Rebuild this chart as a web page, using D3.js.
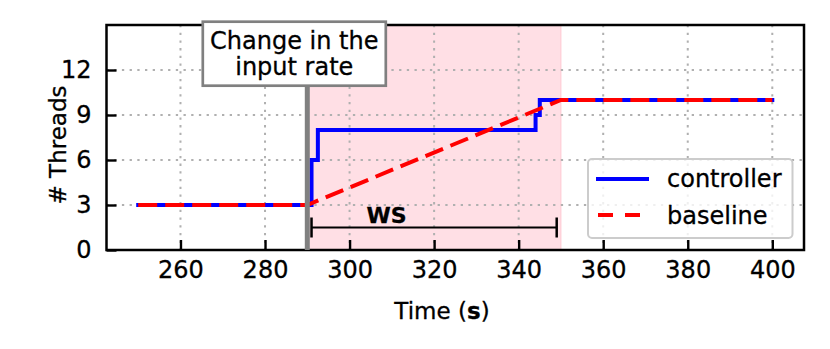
<!doctype html>
<html lang="en">
<head>
<meta charset="utf-8">
<script src="https://cdn.jsdelivr.net/npm/d3@7"></script>
<style>
  body {margin:0; background:#fff}
  svg text {font-family:"DejaVu Sans", sans-serif; font-size:24px; fill:#000; stroke:#000; stroke-width:0.3px}
  .grid line {stroke:#b0b0b0; stroke-width:2; stroke-dasharray:2.3,5.4}
</style>
<title>Threads over time</title>
</head>
<body>
<script>
// data
const ctrlTime = [250, 291, 292.5, 344, 345, 400];
const ctrlThreads = [3, 6, 8, 9, 10, 10];
const baseTime = [250, 290, 350, 400];
const baseThreads = [3, 3, 10, 10];
const xTicks = [260, 280, 300, 320, 340, 360, 380, 400];
const yTicks = [0, 3, 6, 9, 12];
const changeAt = 290, windowEnd = 350;
const wsSpan = [291, 349];

let margin = {top:25, left:106.5, right:26, bottom:99};
let w = 830 - margin.left - margin.right;
let h = 349 - margin.top - margin.bottom;

let x = d3.scaleLinear().domain([242.5, 407.5]).range([0, w]);
let y = d3.scaleLinear().domain([0, 15]).range([h, 0]);

let svg = d3.select("body").append("svg")
  .attr("width", 830).attr("height", 349);
let g = svg.append("g")
  .attr("transform", "translate(" + margin.left + "," + margin.top + ")");

// shaded window
g.append("rect")
  .attr("x", x(changeAt)).attr("y", 0)
  .attr("width", x(windowEnd) - x(changeAt)).attr("height", h)
  .attr("fill", "rgba(255,192,203,0.5)")
  .attr("stroke", "rgba(255,192,203,0.5)").attr("stroke-width", 1.5);

// dotted grid
let grid = g.append("g").attr("class", "grid");
grid.selectAll(".gx").data(xTicks).enter().append("line")
  .attr("x1", d => x(d)).attr("x2", d => x(d)).attr("y1", 0).attr("y2", h);
grid.selectAll(".gy").data(yTicks.filter(d => d > 0)).enter().append("line")
  .attr("y1", d => y(d)).attr("y2", d => y(d)).attr("x1", 0).attr("x2", w);

let ctrl = ctrlTime.map((t, i) => [t, ctrlThreads[i]]);
let base = baseTime.map((t, i) => [t, baseThreads[i]]);

g.append("path").datum(ctrl)
  .attr("d", d3.line().x(d => x(d[0])).y(d => y(d[1])).curve(d3.curveStepAfter))
  .attr("fill", "none").attr("stroke", "#0000ff").attr("stroke-width", 4)
  .attr("stroke-linecap", "square");

g.append("path").datum(base)
  .attr("d", d3.line().x(d => x(d[0])).y(d => y(d[1])))
  .attr("fill", "none").attr("stroke", "#ff0000").attr("stroke-width", 4)
  .attr("stroke-dasharray", "19,8");

// axes (inward ticks)
let xAxis = g.append("g").attr("transform", "translate(0," + h + ")")
  .call(d3.axisBottom(x).tickValues(xTicks).tickSizeInner(-10).tickSizeOuter(0).tickPadding(11));
let yAxis = g.append("g")
  .call(d3.axisLeft(y).tickValues(yTicks).tickSizeInner(-10).tickSizeOuter(0).tickPadding(15));
[xAxis, yAxis].forEach(a => {
  a.attr("font-size", null).attr("font-family", null);
  a.select(".domain").remove();
  a.selectAll(".tick line").attr("stroke", "#000").attr("stroke-width", 2.4);
});

// frame
g.append("rect").attr("width", w).attr("height", h)
  .attr("fill", "none").attr("stroke", "#000").attr("stroke-width", 2.5);

// axis labels
g.append("text")
  .attr("x", 335.5).attr("y", 294)
  .attr("text-anchor", "middle").style("font-size", "23px")
  .text("Time (")
  .call(t => t.append("tspan").attr("font-weight", "bold").text("s"))
  .call(t => t.append("tspan").text(")"));

g.append("text")
  .attr("transform", "translate(-48.5," + (h / 2 + 7.5) + ") rotate(-90)")
  .attr("text-anchor", "middle").attr("dy", "0.35em").style("font-size", "23px")
  .text("# Threads");

// WS window marker
let wsY = y(1.5);
let ws = g.append("g").attr("stroke", "#000").attr("stroke-width", 2);
ws.append("line").attr("x1", x(wsSpan[0])).attr("x2", x(wsSpan[1])).attr("y1", wsY).attr("y2", wsY);
wsSpan.forEach(v => ws.append("line")
  .attr("x1", x(v)).attr("x2", x(v)).attr("y1", wsY - 10).attr("y2", wsY + 10).attr("stroke-width", 2.5));
g.append("text").attr("x", x(304)).attr("y", y(1.8))
  .attr("font-weight", "bold").style("font-size", "22px").text("WS");

// legend
let lg = g.append("g").attr("transform", "translate(" + (w - 216) + "," + (h - 91) + ")");
lg.append("rect").attr("width", 204.5).attr("height", 79).attr("rx", 4)
  .attr("fill", "rgba(255,255,255,0.8)").attr("stroke", "#cccccc").attr("stroke-width", 2);
lg.append("line").attr("x1", 8).attr("x2", 61).attr("y1", 20).attr("y2", 20)
  .attr("stroke", "#0000ff").attr("stroke-width", 4);
lg.append("line").attr("x1", 10).attr("x2", 58).attr("y1", 56).attr("y2", 56)
  .attr("stroke", "#ff0000").attr("stroke-width", 4).attr("stroke-dasharray", "15,12");
lg.append("text").attr("x", 79).attr("y", 28).text("controller");
lg.append("text").attr("x", 79).attr("y", 64.5).text("baseline");

// annotation: change in the input rate
let cx = x(changeAt) - 13;
let boxTop = -3.3, boxH = 64, boxW = 183;
g.append("line").attr("x1", x(changeAt)).attr("x2", x(changeAt))
  .attr("y1", y(0)).attr("y2", boxTop + boxH)
  .attr("stroke", "#808080").attr("stroke-width", 5);
g.append("rect").attr("x", cx - boxW / 2).attr("y", boxTop)
  .attr("width", boxW).attr("height", boxH)
  .attr("fill", "#fff").attr("stroke", "#808080").attr("stroke-width", 2.7);
g.append("text").attr("x", cx).attr("y", boxTop + 27)
  .attr("text-anchor", "middle").text("Change in the");
g.append("text").attr("x", cx).attr("y", boxTop + 53)
  .attr("text-anchor", "middle").text("input rate");
</script>
</body>
</html>
